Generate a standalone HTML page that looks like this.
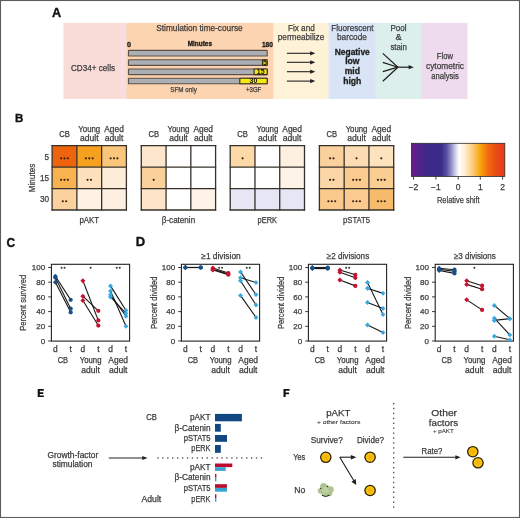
<!DOCTYPE html>
<html><head><meta charset="utf-8"><style>
html,body{margin:0;padding:0;background:#fff;}
svg{display:block;font-family:"Liberation Sans", sans-serif;will-change:transform;}
</style></head><body>
<svg width="520" height="518" viewBox="0 0 520 518">
<rect x="0" y="0" width="520" height="518" fill="#fff"/>
<text x="52.00" y="16.80" font-size="12.7" text-anchor="start" font-weight="bold" fill="#111" stroke="#111" stroke-width="0.35">A</text>
<text x="15.00" y="121.90" font-size="11.5" text-anchor="start" font-weight="bold" fill="#111" stroke="#111" stroke-width="0.35">B</text>
<text x="6.60" y="247.30" font-size="12.0" text-anchor="start" font-weight="bold" fill="#111" stroke="#111" stroke-width="0.35">C</text>
<text x="135.70" y="246.30" font-size="12.0" text-anchor="start" font-weight="bold" fill="#111" textLength="9.40" lengthAdjust="spacingAndGlyphs" stroke="#111" stroke-width="0.35">D</text>
<path d="M37.7 389.1 H43.8 V390.8 H39.8 V392.3 H43.3 V393.9 H39.8 V395.4 H43.9 V397.1 H37.7 Z" fill="#111"/>
<path d="M283.5 389.1 H289.6 V390.8 H285.6 V392.5 H289.0 V394.2 H285.6 V397.1 H283.5 Z" fill="#111"/>
<defs><linearGradient id="gA" x1="63.5" x2="467.5" y1="0" y2="0" gradientUnits="userSpaceOnUse"><stop offset="0" stop-color="#f9dcd7"/><stop offset="0.1400" stop-color="#f9dcd7"/><stop offset="0.1430" stop-color="#f9dde3"/><stop offset="0.1530" stop-color="#f9dde0"/><stop offset="0.1580" stop-color="#fcd4b0"/><stop offset="0.5180" stop-color="#fcd4b1"/><stop offset="0.5205" stop-color="#fef3d8"/><stop offset="0.6530" stop-color="#fef3d9"/><stop offset="0.6600" stop-color="#d9e5f6"/><stop offset="0.7700" stop-color="#d9e5f6"/><stop offset="0.7760" stop-color="#dcefeb"/><stop offset="0.8830" stop-color="#dcefeb"/><stop offset="0.8870" stop-color="#eedbee"/><stop offset="1" stop-color="#eedbee"/></linearGradient><linearGradient id="gCB" x1="411.4" x2="504.8" y1="0" y2="0" gradientUnits="userSpaceOnUse"><stop offset="0" stop-color="#6c1a8c"/><stop offset="0.06" stop-color="#55218a"/><stop offset="0.2" stop-color="#3c2a88"/><stop offset="0.32" stop-color="#3a2c8a"/><stop offset="0.38" stop-color="#5a52a4"/><stop offset="0.43" stop-color="#9894c8"/><stop offset="0.48" stop-color="#dcdbee"/><stop offset="0.51" stop-color="#ffffff"/><stop offset="0.56" stop-color="#fff2dc"/><stop offset="0.64" stop-color="#fcd38a"/><stop offset="0.74" stop-color="#f7a30c"/><stop offset="0.82" stop-color="#f06c10"/><stop offset="0.9" stop-color="#ea4c14"/><stop offset="1" stop-color="#e63a16"/></linearGradient></defs>
<rect x="63.50" y="22.90" width="404.00" height="76.10" fill="url(#gA)"/>
<text x="71.00" y="71.00" font-size="9.2" text-anchor="start" fill="#3b3b3b" textLength="44.00" lengthAdjust="spacingAndGlyphs" stroke="#3b3b3b" stroke-width="0.25">CD34+ cells</text>
<text x="156.30" y="30.90" font-size="9.2" text-anchor="start" fill="#3b3b3b" textLength="86.40" lengthAdjust="spacingAndGlyphs" stroke="#3b3b3b" stroke-width="0.25">Stimulation time-course</text>
<text x="187.70" y="46.40" font-size="6.6" text-anchor="start" font-weight="bold" fill="#1a1a1a" textLength="24.30" lengthAdjust="spacingAndGlyphs" stroke="#1a1a1a" stroke-width="0.3">Minutes</text>
<text x="127.00" y="46.60" font-size="6.9" text-anchor="start" font-weight="bold" fill="#1a1a1a" textLength="4.00" lengthAdjust="spacingAndGlyphs" stroke="#1a1a1a" stroke-width="0.3">0</text>
<text x="261.90" y="46.70" font-size="6.9" text-anchor="start" font-weight="bold" fill="#1a1a1a" textLength="11.00" lengthAdjust="spacingAndGlyphs" stroke="#1a1a1a" stroke-width="0.3">180</text>
<rect x="128.50" y="50.40" width="138.70" height="5.60" fill="#abafb4" stroke="#5e5048" stroke-width="1.15" rx="0.6"/>
<rect x="128.50" y="59.70" width="138.70" height="5.60" fill="#abafb4" stroke="#5e5048" stroke-width="1.15" rx="0.6"/>
<rect x="262.50" y="59.70" width="4.70" height="5.60" fill="#f4ea12" stroke="#3a3020" stroke-width="1.15" rx="0.6"/>
<text x="264.85" y="64.90" font-size="7.0" text-anchor="middle" font-weight="bold" fill="#151510" stroke="none">5</text>
<rect x="128.50" y="69.00" width="138.70" height="5.60" fill="#abafb4" stroke="#5e5048" stroke-width="1.15" rx="0.6"/>
<rect x="254.10" y="69.00" width="13.10" height="5.60" fill="#f4ea12" stroke="#3a3020" stroke-width="1.15" rx="0.6"/>
<text x="260.65" y="74.20" font-size="7.0" text-anchor="middle" font-weight="bold" fill="#151510" stroke="none">15</text>
<rect x="128.50" y="78.20" width="138.70" height="5.60" fill="#abafb4" stroke="#5e5048" stroke-width="1.15" rx="0.6"/>
<rect x="239.80" y="78.20" width="27.40" height="5.60" fill="#f4ea12" stroke="#3a3020" stroke-width="1.15" rx="0.6"/>
<text x="253.50" y="83.40" font-size="7.0" text-anchor="middle" font-weight="bold" fill="#151510" stroke="none">30</text>
<text x="170.30" y="92.10" font-size="7.2" text-anchor="start" fill="#3b3b3b" textLength="26.50" lengthAdjust="spacingAndGlyphs" stroke="#3b3b3b" stroke-width="0.25">SFM only</text>
<text x="246.00" y="92.00" font-size="7.2" text-anchor="start" fill="#3b3b3b" textLength="15.30" lengthAdjust="spacingAndGlyphs" stroke="#3b3b3b" stroke-width="0.25">+3GF</text>
<text x="288.00" y="30.70" font-size="9.2" text-anchor="start" fill="#3b3b3b" textLength="26.70" lengthAdjust="spacingAndGlyphs" stroke="#3b3b3b" stroke-width="0.25">Fix and</text>
<text x="277.80" y="40.40" font-size="9.2" text-anchor="start" fill="#3b3b3b" textLength="46.40" lengthAdjust="spacingAndGlyphs" stroke="#3b3b3b" stroke-width="0.25">permeabilize</text>
<line x1="286.90" y1="53.30" x2="311.00" y2="53.30" stroke="#222" stroke-width="1.1" />
<path d="M310.2 51.20 L315.3 53.30 L310.2 55.40 Z" fill="#222"/>
<line x1="286.90" y1="62.30" x2="311.00" y2="62.30" stroke="#222" stroke-width="1.1" />
<path d="M310.2 60.20 L315.3 62.30 L310.2 64.40 Z" fill="#222"/>
<line x1="286.90" y1="71.70" x2="311.00" y2="71.70" stroke="#222" stroke-width="1.1" />
<path d="M310.2 69.60 L315.3 71.70 L310.2 73.80 Z" fill="#222"/>
<line x1="286.90" y1="81.10" x2="311.00" y2="81.10" stroke="#222" stroke-width="1.1" />
<path d="M310.2 79.00 L315.3 81.10 L310.2 83.20 Z" fill="#222"/>
<text x="331.30" y="30.70" font-size="9.2" text-anchor="start" fill="#3b3b3b" textLength="42.20" lengthAdjust="spacingAndGlyphs" stroke="#3b3b3b" stroke-width="0.25">Fluorescent</text>
<text x="337.00" y="40.40" font-size="9.2" text-anchor="start" fill="#3b3b3b" textLength="29.90" lengthAdjust="spacingAndGlyphs" stroke="#3b3b3b" stroke-width="0.25">barcode</text>
<text x="352.30" y="54.90" font-size="8.6" text-anchor="middle" font-weight="bold" fill="#1e1e1e" textLength="35.00" lengthAdjust="spacingAndGlyphs" stroke="#1e1e1e" stroke-width="0.3">Negative</text>
<text x="352.30" y="64.20" font-size="8.6" text-anchor="middle" font-weight="bold" fill="#1e1e1e" stroke="#1e1e1e" stroke-width="0.3">low</text>
<text x="352.30" y="73.90" font-size="8.6" text-anchor="middle" font-weight="bold" fill="#1e1e1e" stroke="#1e1e1e" stroke-width="0.3">mid</text>
<text x="352.30" y="83.70" font-size="8.6" text-anchor="middle" font-weight="bold" fill="#1e1e1e" stroke="#1e1e1e" stroke-width="0.3">high</text>
<text x="390.40" y="30.70" font-size="9.2" text-anchor="start" fill="#3b3b3b" textLength="16.20" lengthAdjust="spacingAndGlyphs" stroke="#3b3b3b" stroke-width="0.25">Pool</text>
<text x="398.50" y="40.40" font-size="9.2" text-anchor="middle" fill="#3b3b3b" stroke="#3b3b3b" stroke-width="0.25">&amp;</text>
<text x="390.40" y="50.30" font-size="9.2" text-anchor="start" fill="#3b3b3b" textLength="16.60" lengthAdjust="spacingAndGlyphs" stroke="#3b3b3b" stroke-width="0.25">stain</text>
<line x1="382.80" y1="53.40" x2="397.90" y2="67.20" stroke="#1e1e1e" stroke-width="1.2" />
<line x1="382.80" y1="62.40" x2="397.90" y2="67.20" stroke="#1e1e1e" stroke-width="1.2" />
<line x1="382.80" y1="71.70" x2="397.90" y2="67.20" stroke="#1e1e1e" stroke-width="1.2" />
<line x1="382.80" y1="81.20" x2="397.90" y2="67.20" stroke="#1e1e1e" stroke-width="1.2" />
<line x1="397.90" y1="67.20" x2="409.50" y2="67.20" stroke="#1e1e1e" stroke-width="1.2" />
<path d="M408.6 65.1 L413.8 67.2 L408.6 69.3 Z" fill="#222"/>
<text x="444.90" y="59.00" font-size="9.2" text-anchor="middle" fill="#3b3b3b" textLength="16.10" lengthAdjust="spacingAndGlyphs" stroke="#3b3b3b" stroke-width="0.25">Flow</text>
<text x="445.00" y="68.50" font-size="9.2" text-anchor="middle" fill="#3b3b3b" textLength="38.00" lengthAdjust="spacingAndGlyphs" stroke="#3b3b3b" stroke-width="0.25">cytometric</text>
<text x="445.00" y="78.70" font-size="9.2" text-anchor="middle" fill="#3b3b3b" textLength="27.60" lengthAdjust="spacingAndGlyphs" stroke="#3b3b3b" stroke-width="0.25">analysis</text>
<rect x="52.10" y="145.60" width="24.77" height="21.47" fill="#ed640d"/>
<rect x="76.87" y="145.60" width="24.77" height="21.47" fill="#f5a01f"/>
<rect x="101.63" y="145.60" width="24.77" height="21.47" fill="#f9c67c"/>
<rect x="52.10" y="167.07" width="24.77" height="21.47" fill="#f8b250"/>
<rect x="76.87" y="167.07" width="24.77" height="21.47" fill="#fde0bc"/>
<rect x="101.63" y="167.07" width="24.77" height="21.47" fill="#fdeed9"/>
<rect x="52.10" y="188.53" width="24.77" height="21.47" fill="#fbd29e"/>
<rect x="76.87" y="188.53" width="24.77" height="21.47" fill="#fef2e4"/>
<rect x="101.63" y="188.53" width="24.77" height="21.47" fill="#fdf0e2"/>
<line x1="52.10" y1="145.00" x2="52.10" y2="210.60" stroke="#36302a" stroke-width="1.3" />
<line x1="76.87" y1="145.00" x2="76.87" y2="210.60" stroke="#36302a" stroke-width="1.3" />
<line x1="101.63" y1="145.00" x2="101.63" y2="210.60" stroke="#36302a" stroke-width="1.3" />
<line x1="126.40" y1="145.00" x2="126.40" y2="210.60" stroke="#36302a" stroke-width="1.3" />
<line x1="51.50" y1="145.60" x2="127.00" y2="145.60" stroke="#36302a" stroke-width="1.3" />
<line x1="51.50" y1="167.07" x2="127.00" y2="167.07" stroke="#36302a" stroke-width="1.3" />
<line x1="51.50" y1="188.53" x2="127.00" y2="188.53" stroke="#36302a" stroke-width="1.3" />
<line x1="51.50" y1="210.00" x2="127.00" y2="210.00" stroke="#36302a" stroke-width="1.3" />
<circle cx="61.08" cy="158.33" r="1.1" fill="#3a2210"/>
<circle cx="64.48" cy="158.33" r="1.1" fill="#3a2210"/>
<circle cx="67.88" cy="158.33" r="1.1" fill="#3a2210"/>
<circle cx="85.85" cy="158.33" r="1.1" fill="#3a2210"/>
<circle cx="89.25" cy="158.33" r="1.1" fill="#3a2210"/>
<circle cx="92.65" cy="158.33" r="1.1" fill="#3a2210"/>
<circle cx="110.62" cy="158.33" r="1.1" fill="#3a2210"/>
<circle cx="114.02" cy="158.33" r="1.1" fill="#3a2210"/>
<circle cx="117.42" cy="158.33" r="1.1" fill="#3a2210"/>
<circle cx="61.08" cy="179.80" r="1.1" fill="#3a2210"/>
<circle cx="64.48" cy="179.80" r="1.1" fill="#3a2210"/>
<circle cx="67.88" cy="179.80" r="1.1" fill="#3a2210"/>
<circle cx="87.55" cy="179.80" r="1.1" fill="#3a2210"/>
<circle cx="90.95" cy="179.80" r="1.1" fill="#3a2210"/>
<circle cx="62.78" cy="201.27" r="1.1" fill="#3a2210"/>
<circle cx="66.18" cy="201.27" r="1.1" fill="#3a2210"/>
<text x="64.48" y="136.60" font-size="8.4" text-anchor="middle" fill="#3b3b3b" textLength="10.60" lengthAdjust="spacingAndGlyphs" stroke="#3b3b3b" stroke-width="0.25">CB</text>
<text x="89.25" y="132.20" font-size="8.4" text-anchor="middle" fill="#3b3b3b" textLength="21.80" lengthAdjust="spacingAndGlyphs" stroke="#3b3b3b" stroke-width="0.25">Young</text>
<text x="89.25" y="140.60" font-size="8.4" text-anchor="middle" fill="#3b3b3b" textLength="18.60" lengthAdjust="spacingAndGlyphs" stroke="#3b3b3b" stroke-width="0.25">adult</text>
<text x="114.02" y="132.20" font-size="8.4" text-anchor="middle" fill="#3b3b3b" textLength="19.60" lengthAdjust="spacingAndGlyphs" stroke="#3b3b3b" stroke-width="0.25">Aged</text>
<text x="114.02" y="140.60" font-size="8.4" text-anchor="middle" fill="#3b3b3b" textLength="18.60" lengthAdjust="spacingAndGlyphs" stroke="#3b3b3b" stroke-width="0.25">adult</text>
<text x="89.25" y="222.80" font-size="8.8" text-anchor="middle" fill="#3b3b3b" textLength="19.70" lengthAdjust="spacingAndGlyphs" stroke="#3b3b3b" stroke-width="0.25">pAKT</text>
<rect x="141.30" y="145.60" width="24.77" height="21.47" fill="#fde6cc"/>
<rect x="166.07" y="145.60" width="24.77" height="21.47" fill="#ffffff"/>
<rect x="190.83" y="145.60" width="24.77" height="21.47" fill="#ffffff"/>
<rect x="141.30" y="167.07" width="24.77" height="21.47" fill="#fbd19b"/>
<rect x="166.07" y="167.07" width="24.77" height="21.47" fill="#ffffff"/>
<rect x="190.83" y="167.07" width="24.77" height="21.47" fill="#ffffff"/>
<rect x="141.30" y="188.53" width="24.77" height="21.47" fill="#fde4c8"/>
<rect x="166.07" y="188.53" width="24.77" height="21.47" fill="#ffffff"/>
<rect x="190.83" y="188.53" width="24.77" height="21.47" fill="#fef3e6"/>
<line x1="141.30" y1="145.00" x2="141.30" y2="210.60" stroke="#36302a" stroke-width="1.3" />
<line x1="166.07" y1="145.00" x2="166.07" y2="210.60" stroke="#36302a" stroke-width="1.3" />
<line x1="190.83" y1="145.00" x2="190.83" y2="210.60" stroke="#36302a" stroke-width="1.3" />
<line x1="215.60" y1="145.00" x2="215.60" y2="210.60" stroke="#36302a" stroke-width="1.3" />
<line x1="140.70" y1="145.60" x2="216.20" y2="145.60" stroke="#36302a" stroke-width="1.3" />
<line x1="140.70" y1="167.07" x2="216.20" y2="167.07" stroke="#36302a" stroke-width="1.3" />
<line x1="140.70" y1="188.53" x2="216.20" y2="188.53" stroke="#36302a" stroke-width="1.3" />
<line x1="140.70" y1="210.00" x2="216.20" y2="210.00" stroke="#36302a" stroke-width="1.3" />
<circle cx="153.68" cy="179.80" r="1.1" fill="#3a2210"/>
<text x="153.68" y="136.60" font-size="8.4" text-anchor="middle" fill="#3b3b3b" textLength="10.60" lengthAdjust="spacingAndGlyphs" stroke="#3b3b3b" stroke-width="0.25">CB</text>
<text x="178.45" y="132.20" font-size="8.4" text-anchor="middle" fill="#3b3b3b" textLength="21.80" lengthAdjust="spacingAndGlyphs" stroke="#3b3b3b" stroke-width="0.25">Young</text>
<text x="178.45" y="140.60" font-size="8.4" text-anchor="middle" fill="#3b3b3b" textLength="18.60" lengthAdjust="spacingAndGlyphs" stroke="#3b3b3b" stroke-width="0.25">adult</text>
<text x="203.22" y="132.20" font-size="8.4" text-anchor="middle" fill="#3b3b3b" textLength="19.60" lengthAdjust="spacingAndGlyphs" stroke="#3b3b3b" stroke-width="0.25">Aged</text>
<text x="203.22" y="140.60" font-size="8.4" text-anchor="middle" fill="#3b3b3b" textLength="18.60" lengthAdjust="spacingAndGlyphs" stroke="#3b3b3b" stroke-width="0.25">adult</text>
<text x="178.45" y="222.80" font-size="8.8" text-anchor="middle" fill="#3b3b3b" textLength="33.40" lengthAdjust="spacingAndGlyphs" stroke="#3b3b3b" stroke-width="0.25">&#946;-catenin</text>
<rect x="230.20" y="145.60" width="24.77" height="21.47" fill="#fcd9a6"/>
<rect x="254.97" y="145.60" width="24.77" height="21.47" fill="#ffffff"/>
<rect x="279.73" y="145.60" width="24.77" height="21.47" fill="#fdf0e0"/>
<rect x="230.20" y="167.07" width="24.77" height="21.47" fill="#ffffff"/>
<rect x="254.97" y="167.07" width="24.77" height="21.47" fill="#ffffff"/>
<rect x="279.73" y="167.07" width="24.77" height="21.47" fill="#fdf3e6"/>
<rect x="230.20" y="188.53" width="24.77" height="21.47" fill="#e6e6f5"/>
<rect x="254.97" y="188.53" width="24.77" height="21.47" fill="#e6e6f5"/>
<rect x="279.73" y="188.53" width="24.77" height="21.47" fill="#e6e6f5"/>
<line x1="230.20" y1="145.00" x2="230.20" y2="210.60" stroke="#36302a" stroke-width="1.3" />
<line x1="254.97" y1="145.00" x2="254.97" y2="210.60" stroke="#36302a" stroke-width="1.3" />
<line x1="279.73" y1="145.00" x2="279.73" y2="210.60" stroke="#36302a" stroke-width="1.3" />
<line x1="304.50" y1="145.00" x2="304.50" y2="210.60" stroke="#36302a" stroke-width="1.3" />
<line x1="229.60" y1="145.60" x2="305.10" y2="145.60" stroke="#36302a" stroke-width="1.3" />
<line x1="229.60" y1="167.07" x2="305.10" y2="167.07" stroke="#36302a" stroke-width="1.3" />
<line x1="229.60" y1="188.53" x2="305.10" y2="188.53" stroke="#36302a" stroke-width="1.3" />
<line x1="229.60" y1="210.00" x2="305.10" y2="210.00" stroke="#36302a" stroke-width="1.3" />
<circle cx="242.58" cy="158.33" r="1.1" fill="#3a2210"/>
<text x="242.58" y="136.60" font-size="8.4" text-anchor="middle" fill="#3b3b3b" textLength="10.60" lengthAdjust="spacingAndGlyphs" stroke="#3b3b3b" stroke-width="0.25">CB</text>
<text x="267.35" y="132.20" font-size="8.4" text-anchor="middle" fill="#3b3b3b" textLength="21.80" lengthAdjust="spacingAndGlyphs" stroke="#3b3b3b" stroke-width="0.25">Young</text>
<text x="267.35" y="140.60" font-size="8.4" text-anchor="middle" fill="#3b3b3b" textLength="18.60" lengthAdjust="spacingAndGlyphs" stroke="#3b3b3b" stroke-width="0.25">adult</text>
<text x="292.12" y="132.20" font-size="8.4" text-anchor="middle" fill="#3b3b3b" textLength="19.60" lengthAdjust="spacingAndGlyphs" stroke="#3b3b3b" stroke-width="0.25">Aged</text>
<text x="292.12" y="140.60" font-size="8.4" text-anchor="middle" fill="#3b3b3b" textLength="18.60" lengthAdjust="spacingAndGlyphs" stroke="#3b3b3b" stroke-width="0.25">adult</text>
<text x="267.35" y="222.80" font-size="8.8" text-anchor="middle" fill="#3b3b3b" textLength="19.50" lengthAdjust="spacingAndGlyphs" stroke="#3b3b3b" stroke-width="0.25">pERK</text>
<rect x="319.40" y="145.60" width="24.77" height="21.47" fill="#fad19c"/>
<rect x="344.17" y="145.60" width="24.77" height="21.47" fill="#fcddb3"/>
<rect x="368.93" y="145.60" width="24.77" height="21.47" fill="#fde2be"/>
<rect x="319.40" y="167.07" width="24.77" height="21.47" fill="#fbd6a6"/>
<rect x="344.17" y="167.07" width="24.77" height="21.47" fill="#facb8e"/>
<rect x="368.93" y="167.07" width="24.77" height="21.47" fill="#facd92"/>
<rect x="319.40" y="188.53" width="24.77" height="21.47" fill="#fac98c"/>
<rect x="344.17" y="188.53" width="24.77" height="21.47" fill="#fbcb90"/>
<rect x="368.93" y="188.53" width="24.77" height="21.47" fill="#f7bb6e"/>
<line x1="319.40" y1="145.00" x2="319.40" y2="210.60" stroke="#36302a" stroke-width="1.3" />
<line x1="344.17" y1="145.00" x2="344.17" y2="210.60" stroke="#36302a" stroke-width="1.3" />
<line x1="368.93" y1="145.00" x2="368.93" y2="210.60" stroke="#36302a" stroke-width="1.3" />
<line x1="393.70" y1="145.00" x2="393.70" y2="210.60" stroke="#36302a" stroke-width="1.3" />
<line x1="318.80" y1="145.60" x2="394.30" y2="145.60" stroke="#36302a" stroke-width="1.3" />
<line x1="318.80" y1="167.07" x2="394.30" y2="167.07" stroke="#36302a" stroke-width="1.3" />
<line x1="318.80" y1="188.53" x2="394.30" y2="188.53" stroke="#36302a" stroke-width="1.3" />
<line x1="318.80" y1="210.00" x2="394.30" y2="210.00" stroke="#36302a" stroke-width="1.3" />
<circle cx="330.08" cy="158.33" r="1.1" fill="#3a2210"/>
<circle cx="333.48" cy="158.33" r="1.1" fill="#3a2210"/>
<circle cx="356.55" cy="158.33" r="1.1" fill="#3a2210"/>
<circle cx="381.32" cy="158.33" r="1.1" fill="#3a2210"/>
<circle cx="330.08" cy="179.80" r="1.1" fill="#3a2210"/>
<circle cx="333.48" cy="179.80" r="1.1" fill="#3a2210"/>
<circle cx="353.15" cy="179.80" r="1.1" fill="#3a2210"/>
<circle cx="356.55" cy="179.80" r="1.1" fill="#3a2210"/>
<circle cx="359.95" cy="179.80" r="1.1" fill="#3a2210"/>
<circle cx="377.92" cy="179.80" r="1.1" fill="#3a2210"/>
<circle cx="381.32" cy="179.80" r="1.1" fill="#3a2210"/>
<circle cx="384.72" cy="179.80" r="1.1" fill="#3a2210"/>
<circle cx="328.38" cy="201.27" r="1.1" fill="#3a2210"/>
<circle cx="331.78" cy="201.27" r="1.1" fill="#3a2210"/>
<circle cx="335.18" cy="201.27" r="1.1" fill="#3a2210"/>
<circle cx="353.15" cy="201.27" r="1.1" fill="#3a2210"/>
<circle cx="356.55" cy="201.27" r="1.1" fill="#3a2210"/>
<circle cx="359.95" cy="201.27" r="1.1" fill="#3a2210"/>
<circle cx="377.92" cy="201.27" r="1.1" fill="#3a2210"/>
<circle cx="381.32" cy="201.27" r="1.1" fill="#3a2210"/>
<circle cx="384.72" cy="201.27" r="1.1" fill="#3a2210"/>
<text x="331.78" y="136.60" font-size="8.4" text-anchor="middle" fill="#3b3b3b" textLength="10.60" lengthAdjust="spacingAndGlyphs" stroke="#3b3b3b" stroke-width="0.25">CB</text>
<text x="356.55" y="132.20" font-size="8.4" text-anchor="middle" fill="#3b3b3b" textLength="21.80" lengthAdjust="spacingAndGlyphs" stroke="#3b3b3b" stroke-width="0.25">Young</text>
<text x="356.55" y="140.60" font-size="8.4" text-anchor="middle" fill="#3b3b3b" textLength="18.60" lengthAdjust="spacingAndGlyphs" stroke="#3b3b3b" stroke-width="0.25">adult</text>
<text x="381.32" y="132.20" font-size="8.4" text-anchor="middle" fill="#3b3b3b" textLength="19.60" lengthAdjust="spacingAndGlyphs" stroke="#3b3b3b" stroke-width="0.25">Aged</text>
<text x="381.32" y="140.60" font-size="8.4" text-anchor="middle" fill="#3b3b3b" textLength="18.60" lengthAdjust="spacingAndGlyphs" stroke="#3b3b3b" stroke-width="0.25">adult</text>
<text x="356.55" y="222.80" font-size="8.8" text-anchor="middle" fill="#3b3b3b" textLength="27.00" lengthAdjust="spacingAndGlyphs" stroke="#3b3b3b" stroke-width="0.25">pSTAT5</text>
<text x="49.10" y="159.70" font-size="8.2" text-anchor="end" fill="#3b3b3b" stroke="#3b3b3b" stroke-width="0.25">5</text>
<text x="49.10" y="180.90" font-size="8.2" text-anchor="end" fill="#3b3b3b" stroke="#3b3b3b" stroke-width="0.25">15</text>
<text x="49.10" y="202.20" font-size="8.2" text-anchor="end" fill="#3b3b3b" stroke="#3b3b3b" stroke-width="0.25">30</text>
<text x="0.00" y="0.00" font-size="9.8" text-anchor="middle" fill="#3b3b3b" textLength="28.40" lengthAdjust="spacingAndGlyphs" transform="translate(34.8 178) rotate(-90)" stroke="#3b3b3b" stroke-width="0.25">Minutes</text>
<rect x="411.40" y="143.30" width="93.40" height="33.10" fill="url(#gCB)" stroke="#2a2a2a" stroke-width="0.8"/>
<line x1="413.50" y1="176.40" x2="413.50" y2="179.70" stroke="#333" stroke-width="0.9" />
<text x="413.50" y="190.10" font-size="8.5" text-anchor="middle" fill="#3b3b3b" stroke="#3b3b3b" stroke-width="0.25">&#8722;2</text>
<line x1="435.90" y1="176.40" x2="435.90" y2="179.70" stroke="#333" stroke-width="0.9" />
<text x="435.90" y="190.10" font-size="8.5" text-anchor="middle" fill="#3b3b3b" stroke="#3b3b3b" stroke-width="0.25">&#8722;1</text>
<line x1="458.20" y1="176.40" x2="458.20" y2="179.70" stroke="#333" stroke-width="0.9" />
<text x="458.20" y="190.10" font-size="8.5" text-anchor="middle" fill="#3b3b3b" stroke="#3b3b3b" stroke-width="0.25">0</text>
<line x1="480.30" y1="176.40" x2="480.30" y2="179.70" stroke="#333" stroke-width="0.9" />
<text x="480.30" y="190.10" font-size="8.5" text-anchor="middle" fill="#3b3b3b" stroke="#3b3b3b" stroke-width="0.25">1</text>
<line x1="502.60" y1="176.40" x2="502.60" y2="179.70" stroke="#333" stroke-width="0.9" />
<text x="502.60" y="190.10" font-size="8.5" text-anchor="middle" fill="#3b3b3b" stroke="#3b3b3b" stroke-width="0.25">2</text>
<text x="458.30" y="203.40" font-size="9.7" text-anchor="middle" fill="#3b3b3b" textLength="42.60" lengthAdjust="spacingAndGlyphs" stroke="#3b3b3b" stroke-width="0.25">Relative shift</text>
<rect x="51.40" y="264.30" width="78.20" height="76.80" fill="none" stroke="#222" stroke-width="1.1"/>
<line x1="48.20" y1="341.00" x2="51.40" y2="341.00" stroke="#222" stroke-width="0.9" />
<text x="45.10" y="343.80" font-size="8.0" text-anchor="end" fill="#3b3b3b" stroke="#3b3b3b" stroke-width="0.25">0</text>
<line x1="48.20" y1="326.30" x2="51.40" y2="326.30" stroke="#222" stroke-width="0.9" />
<text x="45.10" y="329.10" font-size="8.0" text-anchor="end" fill="#3b3b3b" stroke="#3b3b3b" stroke-width="0.25">20</text>
<line x1="48.20" y1="311.60" x2="51.40" y2="311.60" stroke="#222" stroke-width="0.9" />
<text x="45.10" y="314.40" font-size="8.0" text-anchor="end" fill="#3b3b3b" stroke="#3b3b3b" stroke-width="0.25">40</text>
<line x1="48.20" y1="296.90" x2="51.40" y2="296.90" stroke="#222" stroke-width="0.9" />
<text x="45.10" y="299.70" font-size="8.0" text-anchor="end" fill="#3b3b3b" stroke="#3b3b3b" stroke-width="0.25">60</text>
<line x1="48.20" y1="282.20" x2="51.40" y2="282.20" stroke="#222" stroke-width="0.9" />
<text x="45.10" y="285.00" font-size="8.0" text-anchor="end" fill="#3b3b3b" stroke="#3b3b3b" stroke-width="0.25">80</text>
<line x1="48.20" y1="267.50" x2="51.40" y2="267.50" stroke="#222" stroke-width="0.9" />
<text x="45.10" y="270.30" font-size="8.0" text-anchor="end" fill="#3b3b3b" stroke="#3b3b3b" stroke-width="0.25">100</text>
<text x="0.00" y="0.00" font-size="9.3" text-anchor="middle" fill="#3b3b3b" textLength="56.00" lengthAdjust="spacingAndGlyphs" transform="translate(26.20 302.8) rotate(-90)" stroke="#3b3b3b" stroke-width="0.25">Percent survived</text>
<text x="55.40" y="352.10" font-size="8.4" text-anchor="middle" fill="#3b3b3b" stroke="#3b3b3b" stroke-width="0.25">d</text>
<text x="70.70" y="352.10" font-size="8.4" text-anchor="middle" fill="#3b3b3b" stroke="#3b3b3b" stroke-width="0.25">t</text>
<text x="82.90" y="352.10" font-size="8.4" text-anchor="middle" fill="#3b3b3b" stroke="#3b3b3b" stroke-width="0.25">d</text>
<text x="98.30" y="352.10" font-size="8.4" text-anchor="middle" fill="#3b3b3b" stroke="#3b3b3b" stroke-width="0.25">t</text>
<text x="110.50" y="352.10" font-size="8.4" text-anchor="middle" fill="#3b3b3b" stroke="#3b3b3b" stroke-width="0.25">d</text>
<text x="126.00" y="352.10" font-size="8.4" text-anchor="middle" fill="#3b3b3b" stroke="#3b3b3b" stroke-width="0.25">t</text>
<text x="62.90" y="363.40" font-size="8.4" text-anchor="middle" fill="#3b3b3b" textLength="10.40" lengthAdjust="spacingAndGlyphs" stroke="#3b3b3b" stroke-width="0.25">CB</text>
<text x="90.60" y="363.40" font-size="8.4" text-anchor="middle" fill="#3b3b3b" textLength="21.80" lengthAdjust="spacingAndGlyphs" stroke="#3b3b3b" stroke-width="0.25">Young</text>
<text x="90.60" y="373.10" font-size="8.4" text-anchor="middle" fill="#3b3b3b" textLength="18.60" lengthAdjust="spacingAndGlyphs" stroke="#3b3b3b" stroke-width="0.25">adult</text>
<text x="118.20" y="363.40" font-size="8.4" text-anchor="middle" fill="#3b3b3b" textLength="19.70" lengthAdjust="spacingAndGlyphs" stroke="#3b3b3b" stroke-width="0.25">Aged</text>
<text x="118.20" y="373.10" font-size="8.4" text-anchor="middle" fill="#3b3b3b" textLength="18.60" lengthAdjust="spacingAndGlyphs" stroke="#3b3b3b" stroke-width="0.25">adult</text>
<line x1="55.40" y1="276.32" x2="70.70" y2="299.84" stroke="#181818" stroke-width="1.1" />
<line x1="55.40" y1="277.79" x2="70.70" y2="308.66" stroke="#181818" stroke-width="1.1" />
<line x1="55.40" y1="282.20" x2="70.70" y2="312.33" stroke="#181818" stroke-width="1.1" />
<path d="M55.40 273.82 L57.90 276.32 L55.40 278.82 L52.90 276.32 Z" fill="#1a4f8a"/>
<circle cx="70.70" cy="299.84" r="2.1" fill="#1a4f8a"/>
<path d="M55.40 275.29 L57.90 277.79 L55.40 280.29 L52.90 277.79 Z" fill="#1a4f8a"/>
<circle cx="70.70" cy="308.66" r="2.1" fill="#1a4f8a"/>
<path d="M55.40 279.70 L57.90 282.20 L55.40 284.70 L52.90 282.20 Z" fill="#1a4f8a"/>
<circle cx="70.70" cy="312.33" r="2.1" fill="#1a4f8a"/>
<line x1="82.90" y1="280.73" x2="98.30" y2="320.42" stroke="#181818" stroke-width="1.1" />
<line x1="82.90" y1="296.17" x2="98.30" y2="310.87" stroke="#181818" stroke-width="1.1" />
<line x1="82.90" y1="300.57" x2="98.30" y2="325.56" stroke="#181818" stroke-width="1.1" />
<path d="M82.90 278.23 L85.40 280.73 L82.90 283.23 L80.40 280.73 Z" fill="#c41230"/>
<circle cx="98.30" cy="320.42" r="2.1" fill="#c41230"/>
<path d="M82.90 293.67 L85.40 296.17 L82.90 298.67 L80.40 296.17 Z" fill="#c41230"/>
<circle cx="98.30" cy="310.87" r="2.1" fill="#c41230"/>
<path d="M82.90 298.07 L85.40 300.57 L82.90 303.07 L80.40 300.57 Z" fill="#c41230"/>
<circle cx="98.30" cy="325.56" r="2.1" fill="#c41230"/>
<line x1="110.50" y1="285.88" x2="126.00" y2="310.42" stroke="#181818" stroke-width="1.1" />
<line x1="110.50" y1="291.02" x2="126.00" y2="326.30" stroke="#181818" stroke-width="1.1" />
<line x1="110.50" y1="294.69" x2="126.00" y2="316.23" stroke="#181818" stroke-width="1.1" />
<line x1="110.50" y1="296.90" x2="126.00" y2="313.29" stroke="#181818" stroke-width="1.1" />
<path d="M110.50 283.38 L113.00 285.88 L110.50 288.38 L108.00 285.88 Z" fill="#3aa8df"/>
<path d="M126.00 308.02 L128.40 310.42 L126.00 312.82 L123.60 310.42 Z" fill="#3aa8df"/>
<path d="M110.50 288.52 L113.00 291.02 L110.50 293.52 L108.00 291.02 Z" fill="#3aa8df"/>
<path d="M126.00 323.90 L128.40 326.30 L126.00 328.70 L123.60 326.30 Z" fill="#3aa8df"/>
<path d="M110.50 292.19 L113.00 294.69 L110.50 297.19 L108.00 294.69 Z" fill="#3aa8df"/>
<path d="M126.00 313.83 L128.40 316.23 L126.00 318.63 L123.60 316.23 Z" fill="#3aa8df"/>
<path d="M110.50 294.40 L113.00 296.90 L110.50 299.40 L108.00 296.90 Z" fill="#3aa8df"/>
<path d="M126.00 310.89 L128.40 313.29 L126.00 315.69 L123.60 313.29 Z" fill="#3aa8df"/>
<circle cx="61.55" cy="267.70" r="1.0" fill="#333"/>
<circle cx="64.55" cy="267.70" r="1.0" fill="#333"/>
<circle cx="90.60" cy="267.70" r="1.0" fill="#333"/>
<circle cx="116.75" cy="267.70" r="1.0" fill="#333"/>
<circle cx="119.75" cy="267.70" r="1.0" fill="#333"/>
<rect x="181.40" y="264.30" width="78.20" height="76.80" fill="none" stroke="#222" stroke-width="1.1"/>
<line x1="178.20" y1="341.00" x2="181.40" y2="341.00" stroke="#222" stroke-width="0.9" />
<text x="175.10" y="343.80" font-size="8.0" text-anchor="end" fill="#3b3b3b" stroke="#3b3b3b" stroke-width="0.25">0</text>
<line x1="178.20" y1="326.30" x2="181.40" y2="326.30" stroke="#222" stroke-width="0.9" />
<text x="175.10" y="329.10" font-size="8.0" text-anchor="end" fill="#3b3b3b" stroke="#3b3b3b" stroke-width="0.25">20</text>
<line x1="178.20" y1="311.60" x2="181.40" y2="311.60" stroke="#222" stroke-width="0.9" />
<text x="175.10" y="314.40" font-size="8.0" text-anchor="end" fill="#3b3b3b" stroke="#3b3b3b" stroke-width="0.25">40</text>
<line x1="178.20" y1="296.90" x2="181.40" y2="296.90" stroke="#222" stroke-width="0.9" />
<text x="175.10" y="299.70" font-size="8.0" text-anchor="end" fill="#3b3b3b" stroke="#3b3b3b" stroke-width="0.25">60</text>
<line x1="178.20" y1="282.20" x2="181.40" y2="282.20" stroke="#222" stroke-width="0.9" />
<text x="175.10" y="285.00" font-size="8.0" text-anchor="end" fill="#3b3b3b" stroke="#3b3b3b" stroke-width="0.25">80</text>
<line x1="178.20" y1="267.50" x2="181.40" y2="267.50" stroke="#222" stroke-width="0.9" />
<text x="175.10" y="270.30" font-size="8.0" text-anchor="end" fill="#3b3b3b" stroke="#3b3b3b" stroke-width="0.25">100</text>
<text x="0.00" y="0.00" font-size="9.3" text-anchor="middle" fill="#3b3b3b" textLength="52.30" lengthAdjust="spacingAndGlyphs" transform="translate(156.90 302.8) rotate(-90)" stroke="#3b3b3b" stroke-width="0.25">Percent divided</text>
<text x="185.40" y="352.10" font-size="8.4" text-anchor="middle" fill="#3b3b3b" stroke="#3b3b3b" stroke-width="0.25">d</text>
<text x="200.70" y="352.10" font-size="8.4" text-anchor="middle" fill="#3b3b3b" stroke="#3b3b3b" stroke-width="0.25">t</text>
<text x="212.90" y="352.10" font-size="8.4" text-anchor="middle" fill="#3b3b3b" stroke="#3b3b3b" stroke-width="0.25">d</text>
<text x="228.30" y="352.10" font-size="8.4" text-anchor="middle" fill="#3b3b3b" stroke="#3b3b3b" stroke-width="0.25">t</text>
<text x="240.50" y="352.10" font-size="8.4" text-anchor="middle" fill="#3b3b3b" stroke="#3b3b3b" stroke-width="0.25">d</text>
<text x="256.00" y="352.10" font-size="8.4" text-anchor="middle" fill="#3b3b3b" stroke="#3b3b3b" stroke-width="0.25">t</text>
<text x="192.90" y="363.40" font-size="8.4" text-anchor="middle" fill="#3b3b3b" textLength="10.40" lengthAdjust="spacingAndGlyphs" stroke="#3b3b3b" stroke-width="0.25">CB</text>
<text x="220.60" y="363.40" font-size="8.4" text-anchor="middle" fill="#3b3b3b" textLength="21.80" lengthAdjust="spacingAndGlyphs" stroke="#3b3b3b" stroke-width="0.25">Young</text>
<text x="220.60" y="373.10" font-size="8.4" text-anchor="middle" fill="#3b3b3b" textLength="18.60" lengthAdjust="spacingAndGlyphs" stroke="#3b3b3b" stroke-width="0.25">adult</text>
<text x="248.20" y="363.40" font-size="8.4" text-anchor="middle" fill="#3b3b3b" textLength="19.70" lengthAdjust="spacingAndGlyphs" stroke="#3b3b3b" stroke-width="0.25">Aged</text>
<text x="248.20" y="373.10" font-size="8.4" text-anchor="middle" fill="#3b3b3b" textLength="18.60" lengthAdjust="spacingAndGlyphs" stroke="#3b3b3b" stroke-width="0.25">adult</text>
<text x="221.00" y="259.00" font-size="8.6" text-anchor="middle" fill="#3b3b3b" textLength="39.40" lengthAdjust="spacingAndGlyphs" stroke="#3b3b3b" stroke-width="0.25">&#8805;1 division</text>
<line x1="185.40" y1="267.50" x2="200.70" y2="267.50" stroke="#181818" stroke-width="1.1" />
<line x1="185.40" y1="267.50" x2="200.70" y2="267.50" stroke="#181818" stroke-width="1.1" />
<line x1="185.40" y1="267.50" x2="200.70" y2="267.50" stroke="#181818" stroke-width="1.1" />
<path d="M185.40 265.00 L187.90 267.50 L185.40 270.00 L182.90 267.50 Z" fill="#1a4f8a"/>
<circle cx="200.70" cy="267.50" r="2.1" fill="#1a4f8a"/>
<path d="M185.40 265.00 L187.90 267.50 L185.40 270.00 L182.90 267.50 Z" fill="#1a4f8a"/>
<circle cx="200.70" cy="267.50" r="2.1" fill="#1a4f8a"/>
<path d="M185.40 265.00 L187.90 267.50 L185.40 270.00 L182.90 267.50 Z" fill="#1a4f8a"/>
<circle cx="200.70" cy="267.50" r="2.1" fill="#1a4f8a"/>
<line x1="212.90" y1="268.01" x2="228.30" y2="273.01" stroke="#181818" stroke-width="1.1" />
<line x1="212.90" y1="269.26" x2="228.30" y2="273.97" stroke="#181818" stroke-width="1.1" />
<line x1="212.90" y1="270.00" x2="228.30" y2="274.63" stroke="#181818" stroke-width="1.1" />
<path d="M212.90 265.51 L215.40 268.01 L212.90 270.51 L210.40 268.01 Z" fill="#c41230"/>
<circle cx="228.30" cy="273.01" r="2.1" fill="#c41230"/>
<path d="M212.90 266.76 L215.40 269.26 L212.90 271.76 L210.40 269.26 Z" fill="#c41230"/>
<circle cx="228.30" cy="273.97" r="2.1" fill="#c41230"/>
<path d="M212.90 267.50 L215.40 270.00 L212.90 272.50 L210.40 270.00 Z" fill="#c41230"/>
<circle cx="228.30" cy="274.63" r="2.1" fill="#c41230"/>
<line x1="240.50" y1="271.91" x2="256.00" y2="294.69" stroke="#181818" stroke-width="1.1" />
<line x1="240.50" y1="277.79" x2="256.00" y2="282.57" stroke="#181818" stroke-width="1.1" />
<line x1="240.50" y1="280.73" x2="256.00" y2="304.99" stroke="#181818" stroke-width="1.1" />
<line x1="240.50" y1="295.43" x2="256.00" y2="317.48" stroke="#181818" stroke-width="1.1" />
<path d="M240.50 269.41 L243.00 271.91 L240.50 274.41 L238.00 271.91 Z" fill="#3aa8df"/>
<path d="M256.00 292.30 L258.40 294.69 L256.00 297.09 L253.60 294.69 Z" fill="#3aa8df"/>
<path d="M240.50 275.29 L243.00 277.79 L240.50 280.29 L238.00 277.79 Z" fill="#3aa8df"/>
<path d="M256.00 280.17 L258.40 282.57 L256.00 284.97 L253.60 282.57 Z" fill="#3aa8df"/>
<path d="M240.50 278.23 L243.00 280.73 L240.50 283.23 L238.00 280.73 Z" fill="#3aa8df"/>
<path d="M256.00 302.59 L258.40 304.99 L256.00 307.38 L253.60 304.99 Z" fill="#3aa8df"/>
<path d="M240.50 292.93 L243.00 295.43 L240.50 297.93 L238.00 295.43 Z" fill="#3aa8df"/>
<path d="M256.00 315.08 L258.40 317.48 L256.00 319.88 L253.60 317.48 Z" fill="#3aa8df"/>
<circle cx="219.10" cy="267.70" r="1.0" fill="#333"/>
<circle cx="222.10" cy="267.70" r="1.0" fill="#333"/>
<circle cx="246.75" cy="267.70" r="1.0" fill="#333"/>
<circle cx="249.75" cy="267.70" r="1.0" fill="#333"/>
<rect x="308.40" y="264.30" width="78.20" height="76.80" fill="none" stroke="#222" stroke-width="1.1"/>
<line x1="305.20" y1="341.00" x2="308.40" y2="341.00" stroke="#222" stroke-width="0.9" />
<text x="302.10" y="343.80" font-size="8.0" text-anchor="end" fill="#3b3b3b" stroke="#3b3b3b" stroke-width="0.25">0</text>
<line x1="305.20" y1="326.30" x2="308.40" y2="326.30" stroke="#222" stroke-width="0.9" />
<text x="302.10" y="329.10" font-size="8.0" text-anchor="end" fill="#3b3b3b" stroke="#3b3b3b" stroke-width="0.25">20</text>
<line x1="305.20" y1="311.60" x2="308.40" y2="311.60" stroke="#222" stroke-width="0.9" />
<text x="302.10" y="314.40" font-size="8.0" text-anchor="end" fill="#3b3b3b" stroke="#3b3b3b" stroke-width="0.25">40</text>
<line x1="305.20" y1="296.90" x2="308.40" y2="296.90" stroke="#222" stroke-width="0.9" />
<text x="302.10" y="299.70" font-size="8.0" text-anchor="end" fill="#3b3b3b" stroke="#3b3b3b" stroke-width="0.25">60</text>
<line x1="305.20" y1="282.20" x2="308.40" y2="282.20" stroke="#222" stroke-width="0.9" />
<text x="302.10" y="285.00" font-size="8.0" text-anchor="end" fill="#3b3b3b" stroke="#3b3b3b" stroke-width="0.25">80</text>
<line x1="305.20" y1="267.50" x2="308.40" y2="267.50" stroke="#222" stroke-width="0.9" />
<text x="302.10" y="270.30" font-size="8.0" text-anchor="end" fill="#3b3b3b" stroke="#3b3b3b" stroke-width="0.25">100</text>
<text x="0.00" y="0.00" font-size="9.3" text-anchor="middle" fill="#3b3b3b" textLength="52.30" lengthAdjust="spacingAndGlyphs" transform="translate(283.90 302.8) rotate(-90)" stroke="#3b3b3b" stroke-width="0.25">Percent divided</text>
<text x="312.40" y="352.10" font-size="8.4" text-anchor="middle" fill="#3b3b3b" stroke="#3b3b3b" stroke-width="0.25">d</text>
<text x="327.70" y="352.10" font-size="8.4" text-anchor="middle" fill="#3b3b3b" stroke="#3b3b3b" stroke-width="0.25">t</text>
<text x="339.90" y="352.10" font-size="8.4" text-anchor="middle" fill="#3b3b3b" stroke="#3b3b3b" stroke-width="0.25">d</text>
<text x="355.30" y="352.10" font-size="8.4" text-anchor="middle" fill="#3b3b3b" stroke="#3b3b3b" stroke-width="0.25">t</text>
<text x="367.50" y="352.10" font-size="8.4" text-anchor="middle" fill="#3b3b3b" stroke="#3b3b3b" stroke-width="0.25">d</text>
<text x="383.00" y="352.10" font-size="8.4" text-anchor="middle" fill="#3b3b3b" stroke="#3b3b3b" stroke-width="0.25">t</text>
<text x="319.90" y="363.40" font-size="8.4" text-anchor="middle" fill="#3b3b3b" textLength="10.40" lengthAdjust="spacingAndGlyphs" stroke="#3b3b3b" stroke-width="0.25">CB</text>
<text x="347.60" y="363.40" font-size="8.4" text-anchor="middle" fill="#3b3b3b" textLength="21.80" lengthAdjust="spacingAndGlyphs" stroke="#3b3b3b" stroke-width="0.25">Young</text>
<text x="347.60" y="373.10" font-size="8.4" text-anchor="middle" fill="#3b3b3b" textLength="18.60" lengthAdjust="spacingAndGlyphs" stroke="#3b3b3b" stroke-width="0.25">adult</text>
<text x="375.20" y="363.40" font-size="8.4" text-anchor="middle" fill="#3b3b3b" textLength="19.70" lengthAdjust="spacingAndGlyphs" stroke="#3b3b3b" stroke-width="0.25">Aged</text>
<text x="375.20" y="373.10" font-size="8.4" text-anchor="middle" fill="#3b3b3b" textLength="18.60" lengthAdjust="spacingAndGlyphs" stroke="#3b3b3b" stroke-width="0.25">adult</text>
<text x="348.00" y="259.00" font-size="8.6" text-anchor="middle" fill="#3b3b3b" textLength="42.40" lengthAdjust="spacingAndGlyphs" stroke="#3b3b3b" stroke-width="0.25">&#8805;2 divisions</text>
<line x1="312.40" y1="267.50" x2="327.70" y2="267.50" stroke="#181818" stroke-width="1.1" />
<line x1="312.40" y1="268.24" x2="327.70" y2="268.24" stroke="#181818" stroke-width="1.1" />
<line x1="312.40" y1="268.60" x2="327.70" y2="268.60" stroke="#181818" stroke-width="1.1" />
<path d="M312.40 265.00 L314.90 267.50 L312.40 270.00 L309.90 267.50 Z" fill="#1a4f8a"/>
<circle cx="327.70" cy="267.50" r="2.1" fill="#1a4f8a"/>
<path d="M312.40 265.74 L314.90 268.24 L312.40 270.74 L309.90 268.24 Z" fill="#1a4f8a"/>
<circle cx="327.70" cy="268.24" r="2.1" fill="#1a4f8a"/>
<path d="M312.40 266.10 L314.90 268.60 L312.40 271.10 L309.90 268.60 Z" fill="#1a4f8a"/>
<circle cx="327.70" cy="268.60" r="2.1" fill="#1a4f8a"/>
<line x1="339.90" y1="269.93" x2="355.30" y2="274.85" stroke="#181818" stroke-width="1.1" />
<line x1="339.90" y1="272.20" x2="355.30" y2="277.79" stroke="#181818" stroke-width="1.1" />
<line x1="339.90" y1="280.00" x2="355.30" y2="285.88" stroke="#181818" stroke-width="1.1" />
<path d="M339.90 267.43 L342.40 269.93 L339.90 272.43 L337.40 269.93 Z" fill="#c41230"/>
<circle cx="355.30" cy="274.85" r="2.1" fill="#c41230"/>
<path d="M339.90 269.70 L342.40 272.20 L339.90 274.70 L337.40 272.20 Z" fill="#c41230"/>
<circle cx="355.30" cy="277.79" r="2.1" fill="#c41230"/>
<path d="M339.90 277.50 L342.40 280.00 L339.90 282.50 L337.40 280.00 Z" fill="#c41230"/>
<circle cx="355.30" cy="285.88" r="2.1" fill="#c41230"/>
<line x1="367.50" y1="282.57" x2="383.00" y2="314.54" stroke="#181818" stroke-width="1.1" />
<line x1="367.50" y1="288.30" x2="383.00" y2="293.37" stroke="#181818" stroke-width="1.1" />
<line x1="367.50" y1="302.56" x2="383.00" y2="308.51" stroke="#181818" stroke-width="1.1" />
<line x1="367.50" y1="325.05" x2="383.00" y2="332.55" stroke="#181818" stroke-width="1.1" />
<path d="M367.50 280.07 L370.00 282.57 L367.50 285.07 L365.00 282.57 Z" fill="#3aa8df"/>
<path d="M383.00 312.14 L385.40 314.54 L383.00 316.94 L380.60 314.54 Z" fill="#3aa8df"/>
<path d="M367.50 285.80 L370.00 288.30 L367.50 290.80 L365.00 288.30 Z" fill="#3aa8df"/>
<path d="M383.00 290.97 L385.40 293.37 L383.00 295.77 L380.60 293.37 Z" fill="#3aa8df"/>
<path d="M367.50 300.06 L370.00 302.56 L367.50 305.06 L365.00 302.56 Z" fill="#3aa8df"/>
<path d="M383.00 306.11 L385.40 308.51 L383.00 310.91 L380.60 308.51 Z" fill="#3aa8df"/>
<path d="M367.50 322.55 L370.00 325.05 L367.50 327.55 L365.00 325.05 Z" fill="#3aa8df"/>
<path d="M383.00 330.15 L385.40 332.55 L383.00 334.95 L380.60 332.55 Z" fill="#3aa8df"/>
<circle cx="346.10" cy="267.70" r="1.0" fill="#333"/>
<circle cx="349.10" cy="267.70" r="1.0" fill="#333"/>
<rect x="435.20" y="264.30" width="78.20" height="76.80" fill="none" stroke="#222" stroke-width="1.1"/>
<line x1="432.00" y1="341.00" x2="435.20" y2="341.00" stroke="#222" stroke-width="0.9" />
<text x="428.90" y="343.80" font-size="8.0" text-anchor="end" fill="#3b3b3b" stroke="#3b3b3b" stroke-width="0.25">0</text>
<line x1="432.00" y1="326.30" x2="435.20" y2="326.30" stroke="#222" stroke-width="0.9" />
<text x="428.90" y="329.10" font-size="8.0" text-anchor="end" fill="#3b3b3b" stroke="#3b3b3b" stroke-width="0.25">20</text>
<line x1="432.00" y1="311.60" x2="435.20" y2="311.60" stroke="#222" stroke-width="0.9" />
<text x="428.90" y="314.40" font-size="8.0" text-anchor="end" fill="#3b3b3b" stroke="#3b3b3b" stroke-width="0.25">40</text>
<line x1="432.00" y1="296.90" x2="435.20" y2="296.90" stroke="#222" stroke-width="0.9" />
<text x="428.90" y="299.70" font-size="8.0" text-anchor="end" fill="#3b3b3b" stroke="#3b3b3b" stroke-width="0.25">60</text>
<line x1="432.00" y1="282.20" x2="435.20" y2="282.20" stroke="#222" stroke-width="0.9" />
<text x="428.90" y="285.00" font-size="8.0" text-anchor="end" fill="#3b3b3b" stroke="#3b3b3b" stroke-width="0.25">80</text>
<line x1="432.00" y1="267.50" x2="435.20" y2="267.50" stroke="#222" stroke-width="0.9" />
<text x="428.90" y="270.30" font-size="8.0" text-anchor="end" fill="#3b3b3b" stroke="#3b3b3b" stroke-width="0.25">100</text>
<text x="0.00" y="0.00" font-size="9.3" text-anchor="middle" fill="#3b3b3b" textLength="52.30" lengthAdjust="spacingAndGlyphs" transform="translate(410.70 302.8) rotate(-90)" stroke="#3b3b3b" stroke-width="0.25">Percent divided</text>
<text x="439.20" y="352.10" font-size="8.4" text-anchor="middle" fill="#3b3b3b" stroke="#3b3b3b" stroke-width="0.25">d</text>
<text x="454.50" y="352.10" font-size="8.4" text-anchor="middle" fill="#3b3b3b" stroke="#3b3b3b" stroke-width="0.25">t</text>
<text x="466.70" y="352.10" font-size="8.4" text-anchor="middle" fill="#3b3b3b" stroke="#3b3b3b" stroke-width="0.25">d</text>
<text x="482.10" y="352.10" font-size="8.4" text-anchor="middle" fill="#3b3b3b" stroke="#3b3b3b" stroke-width="0.25">t</text>
<text x="494.30" y="352.10" font-size="8.4" text-anchor="middle" fill="#3b3b3b" stroke="#3b3b3b" stroke-width="0.25">d</text>
<text x="509.80" y="352.10" font-size="8.4" text-anchor="middle" fill="#3b3b3b" stroke="#3b3b3b" stroke-width="0.25">t</text>
<text x="446.70" y="363.40" font-size="8.4" text-anchor="middle" fill="#3b3b3b" textLength="10.40" lengthAdjust="spacingAndGlyphs" stroke="#3b3b3b" stroke-width="0.25">CB</text>
<text x="474.40" y="363.40" font-size="8.4" text-anchor="middle" fill="#3b3b3b" textLength="21.80" lengthAdjust="spacingAndGlyphs" stroke="#3b3b3b" stroke-width="0.25">Young</text>
<text x="474.40" y="373.10" font-size="8.4" text-anchor="middle" fill="#3b3b3b" textLength="18.60" lengthAdjust="spacingAndGlyphs" stroke="#3b3b3b" stroke-width="0.25">adult</text>
<text x="502.00" y="363.40" font-size="8.4" text-anchor="middle" fill="#3b3b3b" textLength="19.70" lengthAdjust="spacingAndGlyphs" stroke="#3b3b3b" stroke-width="0.25">Aged</text>
<text x="502.00" y="373.10" font-size="8.4" text-anchor="middle" fill="#3b3b3b" textLength="18.60" lengthAdjust="spacingAndGlyphs" stroke="#3b3b3b" stroke-width="0.25">adult</text>
<text x="474.80" y="259.00" font-size="8.6" text-anchor="middle" fill="#3b3b3b" textLength="41.80" lengthAdjust="spacingAndGlyphs" stroke="#3b3b3b" stroke-width="0.25">&#8805;3 divisions</text>
<line x1="439.20" y1="268.24" x2="454.50" y2="269.70" stroke="#181818" stroke-width="1.1" />
<line x1="439.20" y1="269.34" x2="454.50" y2="271.18" stroke="#181818" stroke-width="1.1" />
<line x1="439.20" y1="270.44" x2="454.50" y2="273.38" stroke="#181818" stroke-width="1.1" />
<path d="M439.20 265.74 L441.70 268.24 L439.20 270.74 L436.70 268.24 Z" fill="#1a4f8a"/>
<circle cx="454.50" cy="269.70" r="2.1" fill="#1a4f8a"/>
<path d="M439.20 266.84 L441.70 269.34 L439.20 271.84 L436.70 269.34 Z" fill="#1a4f8a"/>
<circle cx="454.50" cy="271.18" r="2.1" fill="#1a4f8a"/>
<path d="M439.20 267.94 L441.70 270.44 L439.20 272.94 L436.70 270.44 Z" fill="#1a4f8a"/>
<circle cx="454.50" cy="273.38" r="2.1" fill="#1a4f8a"/>
<line x1="466.70" y1="280.73" x2="482.10" y2="285.65" stroke="#181818" stroke-width="1.1" />
<line x1="466.70" y1="284.40" x2="482.10" y2="289.18" stroke="#181818" stroke-width="1.1" />
<line x1="466.70" y1="299.84" x2="482.10" y2="309.91" stroke="#181818" stroke-width="1.1" />
<path d="M466.70 278.23 L469.20 280.73 L466.70 283.23 L464.20 280.73 Z" fill="#c41230"/>
<circle cx="482.10" cy="285.65" r="2.1" fill="#c41230"/>
<path d="M466.70 281.90 L469.20 284.40 L466.70 286.90 L464.20 284.40 Z" fill="#c41230"/>
<circle cx="482.10" cy="289.18" r="2.1" fill="#c41230"/>
<path d="M466.70 297.34 L469.20 299.84 L466.70 302.34 L464.20 299.84 Z" fill="#c41230"/>
<circle cx="482.10" cy="309.91" r="2.1" fill="#c41230"/>
<line x1="494.30" y1="305.43" x2="509.80" y2="318.66" stroke="#181818" stroke-width="1.1" />
<line x1="494.30" y1="320.42" x2="509.80" y2="318.66" stroke="#181818" stroke-width="1.1" />
<line x1="494.30" y1="318.21" x2="509.80" y2="334.90" stroke="#181818" stroke-width="1.1" />
<line x1="494.30" y1="336.30" x2="509.80" y2="339.82" stroke="#181818" stroke-width="1.1" />
<path d="M494.30 302.93 L496.80 305.43 L494.30 307.93 L491.80 305.43 Z" fill="#3aa8df"/>
<path d="M509.80 316.26 L512.20 318.66 L509.80 321.06 L507.40 318.66 Z" fill="#3aa8df"/>
<path d="M494.30 317.92 L496.80 320.42 L494.30 322.92 L491.80 320.42 Z" fill="#3aa8df"/>
<path d="M509.80 316.26 L512.20 318.66 L509.80 321.06 L507.40 318.66 Z" fill="#3aa8df"/>
<path d="M494.30 315.71 L496.80 318.21 L494.30 320.71 L491.80 318.21 Z" fill="#3aa8df"/>
<path d="M509.80 332.50 L512.20 334.90 L509.80 337.30 L507.40 334.90 Z" fill="#3aa8df"/>
<path d="M494.30 333.80 L496.80 336.30 L494.30 338.80 L491.80 336.30 Z" fill="#3aa8df"/>
<path d="M509.80 337.42 L512.20 339.82 L509.80 342.22 L507.40 339.82 Z" fill="#3aa8df"/>
<circle cx="474.40" cy="267.70" r="1.0" fill="#333"/>
<text x="146.30" y="420.20" font-size="8.5" text-anchor="start" fill="#3b3b3b" textLength="10.70" lengthAdjust="spacingAndGlyphs" stroke="#3b3b3b" stroke-width="0.25">CB</text>
<text x="210.50" y="420.20" font-size="8.5" text-anchor="end" fill="#3b3b3b" textLength="20.50" lengthAdjust="spacingAndGlyphs" stroke="#3b3b3b" stroke-width="0.25">pAKT</text>
<text x="210.50" y="430.60" font-size="8.5" text-anchor="end" fill="#3b3b3b" textLength="36.00" lengthAdjust="spacingAndGlyphs" stroke="#3b3b3b" stroke-width="0.25">&#946;-Catenin</text>
<text x="210.50" y="441.00" font-size="8.5" text-anchor="end" fill="#3b3b3b" textLength="26.70" lengthAdjust="spacingAndGlyphs" stroke="#3b3b3b" stroke-width="0.25">pSTAT5</text>
<text x="210.50" y="451.20" font-size="8.5" text-anchor="end" fill="#3b3b3b" textLength="19.20" lengthAdjust="spacingAndGlyphs" stroke="#3b3b3b" stroke-width="0.25">pERK</text>
<rect x="215.00" y="413.90" width="26.90" height="7.40" fill="#114783"/>
<rect x="215.00" y="423.90" width="5.80" height="7.80" fill="#114783"/>
<rect x="215.00" y="435.00" width="12.00" height="6.80" fill="#114783"/>
<rect x="215.00" y="445.00" width="5.80" height="7.80" fill="#114783"/>
<text x="47.50" y="457.50" font-size="8.5" text-anchor="start" fill="#3b3b3b" textLength="50.80" lengthAdjust="spacingAndGlyphs" stroke="#3b3b3b" stroke-width="0.25">Growth-factor</text>
<text x="52.50" y="467.40" font-size="8.5" text-anchor="start" fill="#3b3b3b" textLength="40.00" lengthAdjust="spacingAndGlyphs" stroke="#3b3b3b" stroke-width="0.25">stimulation</text>
<line x1="108.80" y1="458.00" x2="143.50" y2="458.00" stroke="#222" stroke-width="1.1" />
<path d="M142.3 455.9 L147.6 458 L142.3 460.1 Z" fill="#222"/>
<rect x="157.30" y="457.30" width="1.35" height="1.35" fill="#4a4a4a"/>
<rect x="162.23" y="457.30" width="1.35" height="1.35" fill="#4a4a4a"/>
<rect x="167.16" y="457.30" width="1.35" height="1.35" fill="#4a4a4a"/>
<rect x="172.09" y="457.30" width="1.35" height="1.35" fill="#4a4a4a"/>
<rect x="177.02" y="457.30" width="1.35" height="1.35" fill="#4a4a4a"/>
<rect x="181.95" y="457.30" width="1.35" height="1.35" fill="#4a4a4a"/>
<rect x="186.88" y="457.30" width="1.35" height="1.35" fill="#4a4a4a"/>
<rect x="191.81" y="457.30" width="1.35" height="1.35" fill="#4a4a4a"/>
<rect x="196.74" y="457.30" width="1.35" height="1.35" fill="#4a4a4a"/>
<rect x="201.67" y="457.30" width="1.35" height="1.35" fill="#4a4a4a"/>
<rect x="206.60" y="457.30" width="1.35" height="1.35" fill="#4a4a4a"/>
<rect x="211.53" y="457.30" width="1.35" height="1.35" fill="#4a4a4a"/>
<rect x="216.46" y="457.30" width="1.35" height="1.35" fill="#4a4a4a"/>
<rect x="221.39" y="457.30" width="1.35" height="1.35" fill="#4a4a4a"/>
<rect x="226.32" y="457.30" width="1.35" height="1.35" fill="#4a4a4a"/>
<rect x="231.25" y="457.30" width="1.35" height="1.35" fill="#4a4a4a"/>
<rect x="236.18" y="457.30" width="1.35" height="1.35" fill="#4a4a4a"/>
<rect x="241.11" y="457.30" width="1.35" height="1.35" fill="#4a4a4a"/>
<rect x="246.04" y="457.30" width="1.35" height="1.35" fill="#4a4a4a"/>
<rect x="250.97" y="457.30" width="1.35" height="1.35" fill="#4a4a4a"/>
<rect x="255.90" y="457.30" width="1.35" height="1.35" fill="#4a4a4a"/>
<rect x="260.83" y="457.30" width="1.35" height="1.35" fill="#4a4a4a"/>
<text x="210.50" y="469.60" font-size="8.5" text-anchor="end" fill="#3b3b3b" textLength="20.50" lengthAdjust="spacingAndGlyphs" stroke="#3b3b3b" stroke-width="0.25">pAKT</text>
<text x="210.50" y="480.20" font-size="8.5" text-anchor="end" fill="#3b3b3b" textLength="36.00" lengthAdjust="spacingAndGlyphs" stroke="#3b3b3b" stroke-width="0.25">&#946;-Catenin</text>
<text x="210.50" y="491.30" font-size="8.5" text-anchor="end" fill="#3b3b3b" textLength="26.70" lengthAdjust="spacingAndGlyphs" stroke="#3b3b3b" stroke-width="0.25">pSTAT5</text>
<text x="210.50" y="501.80" font-size="8.5" text-anchor="end" fill="#3b3b3b" textLength="19.20" lengthAdjust="spacingAndGlyphs" stroke="#3b3b3b" stroke-width="0.25">pERK</text>
<text x="141.50" y="502.20" font-size="8.5" text-anchor="start" fill="#3b3b3b" textLength="19.70" lengthAdjust="spacingAndGlyphs" stroke="#3b3b3b" stroke-width="0.25">Adult</text>
<rect x="215.00" y="463.50" width="17.30" height="3.60" fill="#bb0c2c"/>
<rect x="215.00" y="467.20" width="10.70" height="3.70" fill="#38a4d2"/>
<rect x="215.00" y="473.90" width="1.40" height="3.80" fill="#bb0c2c"/>
<rect x="215.00" y="477.70" width="1.40" height="3.60" fill="#38a4d2"/>
<rect x="215.00" y="484.20" width="11.90" height="3.70" fill="#bb0c2c"/>
<rect x="215.00" y="487.90" width="12.00" height="3.80" fill="#38a4d2"/>
<rect x="215.00" y="494.30" width="1.40" height="3.80" fill="#bb0c2c"/>
<rect x="215.00" y="498.10" width="1.40" height="3.60" fill="#38a4d2"/>
<text x="338.30" y="416.20" font-size="9.6" text-anchor="middle" fill="#3b3b3b" textLength="24.20" lengthAdjust="spacingAndGlyphs" stroke="#3b3b3b" stroke-width="0.25">pAKT</text>
<text x="338.60" y="423.50" font-size="5.8" text-anchor="middle" fill="#3b3b3b" textLength="43.40" lengthAdjust="spacingAndGlyphs" stroke="#3b3b3b" stroke-width="0.12">+ other factors</text>
<text x="310.70" y="443.20" font-size="8.5" text-anchor="start" fill="#3b3b3b" textLength="32.10" lengthAdjust="spacingAndGlyphs" stroke="#3b3b3b" stroke-width="0.25">Survive?</text>
<text x="356.90" y="443.20" font-size="8.5" text-anchor="start" fill="#3b3b3b" textLength="27.00" lengthAdjust="spacingAndGlyphs" stroke="#3b3b3b" stroke-width="0.25">Divide?</text>
<text x="293.20" y="460.40" font-size="8.5" text-anchor="start" fill="#3b3b3b" textLength="12.00" lengthAdjust="spacingAndGlyphs" stroke="#3b3b3b" stroke-width="0.25">Yes</text>
<text x="294.20" y="493.20" font-size="8.5" text-anchor="start" fill="#3b3b3b" textLength="11.00" lengthAdjust="spacingAndGlyphs" stroke="#3b3b3b" stroke-width="0.25">No</text>
<rect x="393.00" y="402.90" width="1.35" height="1.35" fill="#4a4a4a"/>
<rect x="393.00" y="407.83" width="1.35" height="1.35" fill="#4a4a4a"/>
<rect x="393.00" y="412.76" width="1.35" height="1.35" fill="#4a4a4a"/>
<rect x="393.00" y="417.69" width="1.35" height="1.35" fill="#4a4a4a"/>
<rect x="393.00" y="422.62" width="1.35" height="1.35" fill="#4a4a4a"/>
<rect x="393.00" y="427.55" width="1.35" height="1.35" fill="#4a4a4a"/>
<rect x="393.00" y="432.48" width="1.35" height="1.35" fill="#4a4a4a"/>
<rect x="393.00" y="437.41" width="1.35" height="1.35" fill="#4a4a4a"/>
<rect x="393.00" y="442.34" width="1.35" height="1.35" fill="#4a4a4a"/>
<rect x="393.00" y="447.27" width="1.35" height="1.35" fill="#4a4a4a"/>
<rect x="393.00" y="452.20" width="1.35" height="1.35" fill="#4a4a4a"/>
<rect x="393.00" y="457.13" width="1.35" height="1.35" fill="#4a4a4a"/>
<rect x="393.00" y="462.06" width="1.35" height="1.35" fill="#4a4a4a"/>
<rect x="393.00" y="466.99" width="1.35" height="1.35" fill="#4a4a4a"/>
<rect x="393.00" y="471.92" width="1.35" height="1.35" fill="#4a4a4a"/>
<rect x="393.00" y="476.85" width="1.35" height="1.35" fill="#4a4a4a"/>
<rect x="393.00" y="481.78" width="1.35" height="1.35" fill="#4a4a4a"/>
<rect x="393.00" y="486.71" width="1.35" height="1.35" fill="#4a4a4a"/>
<rect x="393.00" y="491.64" width="1.35" height="1.35" fill="#4a4a4a"/>
<rect x="393.00" y="496.57" width="1.35" height="1.35" fill="#4a4a4a"/>
<rect x="393.00" y="501.50" width="1.35" height="1.35" fill="#4a4a4a"/>
<rect x="393.00" y="506.43" width="1.35" height="1.35" fill="#4a4a4a"/>
<defs><radialGradient id="gY"><stop offset="0" stop-color="#f2aa08"/><stop offset="0.6" stop-color="#f6bf08"/><stop offset="1" stop-color="#f9cc10"/></radialGradient></defs>
<circle cx="325.8" cy="457.3" r="5.15" fill="url(#gY)" stroke="#2e2008" stroke-width="1.3"/>
<circle cx="370.1" cy="457.2" r="5.15" fill="url(#gY)" stroke="#2e2008" stroke-width="1.3"/>
<circle cx="370.1" cy="490.5" r="5.15" fill="url(#gY)" stroke="#2e2008" stroke-width="1.3"/>
<circle cx="472.8" cy="451.7" r="5.15" fill="url(#gY)" stroke="#2e2008" stroke-width="1.3"/>
<circle cx="478.0" cy="462.8" r="5.15" fill="url(#gY)" stroke="#2e2008" stroke-width="1.3"/>
<line x1="339.80" y1="457.20" x2="352.00" y2="457.20" stroke="#1e1e1e" stroke-width="1.1" />
<path d="M350.8 454.9 L356.4 457.2 L350.8 459.5 Z" fill="#1e1e1e"/>
<line x1="339.80" y1="457.20" x2="353.90" y2="480.70" stroke="#1e1e1e" stroke-width="1.1" />
<path d="M351.4 481.7 L356.3 484.9 L355.7 479.1 Z" fill="#1e1e1e"/>
<g fill="#aec593"><circle cx="325.8" cy="490.6" r="5.6"/><circle cx="323.6" cy="486.6" r="3.5"/><circle cx="330.4" cy="489.6" r="3.4"/><circle cx="320.6" cy="490.8" r="2.9"/><circle cx="329.3" cy="493.2" r="3"/></g>
<circle cx="325.6" cy="490.2" r="3.2" fill="#bcd0a2"/>
<path d="M321.8 495.2 Q325.6 498 329.6 495.2" fill="none" stroke="#1e2810" stroke-width="1"/>
<circle cx="320.7" cy="488.4" r="0.65" fill="#22301a"/><circle cx="327.4" cy="486.5" r="0.65" fill="#22301a"/>
<text x="444.20" y="416.00" font-size="9.6" text-anchor="middle" fill="#3b3b3b" textLength="25.70" lengthAdjust="spacingAndGlyphs" stroke="#3b3b3b" stroke-width="0.25">Other</text>
<text x="443.40" y="425.60" font-size="9.6" text-anchor="middle" fill="#3b3b3b" textLength="29.20" lengthAdjust="spacingAndGlyphs" stroke="#3b3b3b" stroke-width="0.25">factors</text>
<text x="443.40" y="433.30" font-size="6.0" text-anchor="middle" fill="#3b3b3b" textLength="20.70" lengthAdjust="spacingAndGlyphs" stroke="#3b3b3b" stroke-width="0.12">+ pAKT</text>
<text x="421.50" y="453.80" font-size="8.5" text-anchor="start" fill="#3b3b3b" textLength="20.80" lengthAdjust="spacingAndGlyphs" stroke="#3b3b3b" stroke-width="0.25">Rate?</text>
<line x1="403.30" y1="457.30" x2="456.50" y2="457.30" stroke="#222" stroke-width="1.1" />
<path d="M455.4 455.2 L460.6 457.3 L455.4 459.4 Z" fill="#222"/>
<rect x="0.5" y="0.5" width="519" height="517" fill="none" stroke="#5c5c5c" stroke-width="1.1"/>
</svg>
</body></html>
